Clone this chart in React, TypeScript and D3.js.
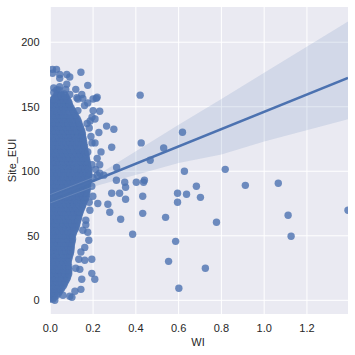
import React from "react";
import * as d3 from "d3";

const xTicks = [0, 0.2, 0.4, 0.6, 0.8, 1.0, 1.2];
const yTicks = [0, 50, 100, 150, 200];

// Outlying buildings: [WI, Site_EUI]
const outliers: [number, number][] = [
  [0.42, 159], [0.425, 122], [0.53, 118], [0.467, 108.5], [0.618, 130.2], [0.31, 103], [0.287, 118.6], [0.297, 132.6],
  [0.263, 135], [0.227, 130], [0.231, 146.5], [0.219, 157.4], [0.175, 166.6], [0.143, 176.7], [0.309, 93], [0.348, 91.5],
  [0.352, 87.6], [0.44, 93], [0.436, 91.5], [0.402, 91.5], [0.287, 83], [0.324, 83], [0.352, 78.3], [0.432, 80.6],
  [0.595, 83], [0.595, 76], [0.222, 75], [0.269, 74.4], [0.278, 68.2], [0.432, 67.4], [0.539, 64.3], [0.329, 62.8],
  [0.385, 51.2], [0.586, 45.7], [0.553, 30.2], [0.601, 9.3], [0.194, 31.8], [0.194, 20.9], [0.208, 16.3], [0.143, 8.5],
  [0.147, 16.3], [0.115, 7], [0.101, 2.3], [0.091, 3.1], [0.059, 3.9], [0.021, 0], [0.18, 46.5], [0.175, 52.7],
  [0.199, 80.6], [0.185, 69.8], [0.182, 76], [0.194, 88.4], [0.166, 62], [0.166, 58.5], [0.152, 54.3], [0.161, 41],
  [0.143, 37.5], [0.161, 31], [0.133, 31.8], [0.138, 24], [0.119, 24.8], [0.637, 82.2], [0.683, 88.4], [0.702, 79.8],
  [0.777, 60.5], [0.912, 89.1], [1.066, 90.7], [1.112, 65.9], [1.126, 49.6], [1.392, 69.8], [0.725, 24.8], [0.627, 100],
  [0.818, 101.5],
];

// Upper fringe of the cloud
const upperFringe: [number, number][] = [
  [0.01, 179], [0.029, 179], [0.01, 176], [0.044, 175], [0.044, 172], [0.077, 175], [0.091, 173], [0.077, 167.5],
  [0.016, 164.5], [0.044, 165.5], [0.016, 161], [0.02, 156], [0.072, 163.5], [0.119, 163.5], [0.091, 159.5], [0.124, 157],
  [0.147, 159.5], [0.152, 156.5], [0.129, 156], [0.175, 153], [0.16, 151], [0.2, 156], [0.215, 156.5], [0.129, 147],
  [0.2, 147], [0.195, 142], [0.209, 140.5], [0.186, 139], [0.172, 137], [0.182, 133.5], [0.19, 127], [0.209, 122],
  [0.195, 122], [0.237, 115], [0.219, 110], [0.175, 115], [0.231, 105], [0.212, 101.5], [0.25, 97], [0.231, 98.5],
  [0.195, 105], [0.2, 95], [0.22, 97],
];

// Dense body of the cloud: [Site_EUI, WI values at that level]
const coreRows: [number, number[]][] = [
  [1, [0.0, 0.012]],
  [4, [0.01, 0.03]],
  [7, [0.0, 0.022, 0.043]],
  [10, [0.012, 0.031, 0.055]],
  [13, [0.0, 0.021, 0.044, 0.066]],
  [16, [0.011, 0.03, 0.052, 0.075]],
  [19, [0.0, 0.022, 0.041, 0.063, 0.082]],
  [22, [0.01, 0.033, 0.052, 0.074, 0.085]],
  [25, [0.0, 0.02, 0.043, 0.061, 0.083]],
  [28, [0.011, 0.031, 0.054, 0.071, 0.08]],
  [31, [0.0, 0.022, 0.04, 0.063, 0.082]],
  [34, [0.012, 0.032, 0.051, 0.073, 0.088]],
  [37, [0.0, 0.021, 0.044, 0.062, 0.084, 0.094]],
  [40, [0.01, 0.03, 0.053, 0.072, 0.096]],
  [43, [0.0, 0.023, 0.041, 0.064, 0.083, 0.097]],
  [46, [0.011, 0.033, 0.05, 0.074, 0.092, 0.102]],
  [49, [0.0, 0.02, 0.042, 0.061, 0.082, 0.1]],
  [52, [0.012, 0.031, 0.052, 0.071, 0.093, 0.107]],
  [55, [0.0, 0.022, 0.043, 0.063, 0.084, 0.103, 0.116]],
  [58, [0.01, 0.032, 0.051, 0.073, 0.091, 0.112, 0.122]],
  [61, [0.0, 0.021, 0.04, 0.062, 0.081, 0.102, 0.126]],
  [64, [0.011, 0.03, 0.053, 0.072, 0.094, 0.113, 0.132]],
  [67, [0.0, 0.023, 0.044, 0.064, 0.083, 0.104, 0.122, 0.136]],
  [70, [0.012, 0.033, 0.05, 0.074, 0.092, 0.114, 0.142]],
  [73, [0.0, 0.02, 0.041, 0.061, 0.082, 0.101, 0.124, 0.15]],
  [76, [0.01, 0.031, 0.052, 0.071, 0.093, 0.111, 0.133, 0.156]],
  [79, [0.0, 0.022, 0.043, 0.063, 0.084, 0.103, 0.122, 0.143, 0.166]],
  [82, [0.011, 0.032, 0.051, 0.073, 0.091, 0.112, 0.134, 0.152, 0.167]],
  [85, [0.0, 0.021, 0.04, 0.062, 0.081, 0.102, 0.123, 0.144, 0.171]],
  [88, [0.012, 0.03, 0.053, 0.072, 0.094, 0.113, 0.132, 0.153, 0.172]],
  [91, [0.0, 0.023, 0.044, 0.064, 0.083, 0.104, 0.121, 0.142, 0.163, 0.174]],
  [94, [0.01, 0.033, 0.05, 0.074, 0.092, 0.114, 0.133, 0.151, 0.176]],
  [97, [0.0, 0.02, 0.041, 0.061, 0.082, 0.101, 0.122, 0.143, 0.162, 0.179]],
  [100, [0.011, 0.031, 0.052, 0.071, 0.093, 0.111, 0.134, 0.152, 0.18]],
  [103, [0.0, 0.022, 0.043, 0.063, 0.084, 0.103, 0.123, 0.141, 0.163, 0.176]],
  [106, [0.012, 0.032, 0.051, 0.073, 0.091, 0.112, 0.132, 0.153, 0.172]],
  [109, [0.0, 0.021, 0.04, 0.062, 0.081, 0.102, 0.121, 0.144, 0.169]],
  [112, [0.01, 0.03, 0.053, 0.072, 0.094, 0.113, 0.133, 0.151, 0.166]],
  [115, [0.0, 0.023, 0.044, 0.064, 0.083, 0.104, 0.122, 0.142, 0.161]],
  [118, [0.011, 0.033, 0.05, 0.074, 0.092, 0.114, 0.134, 0.158]],
  [121, [0.0, 0.02, 0.041, 0.061, 0.082, 0.101, 0.123, 0.143, 0.156]],
  [124, [0.012, 0.031, 0.052, 0.071, 0.093, 0.111, 0.132, 0.153]],
  [127, [0.0, 0.022, 0.043, 0.063, 0.084, 0.103, 0.121, 0.141, 0.15]],
  [130, [0.01, 0.032, 0.051, 0.073, 0.091, 0.112, 0.133, 0.148]],
  [133, [0.0, 0.021, 0.04, 0.062, 0.081, 0.102, 0.122, 0.142]],
  [136, [0.011, 0.03, 0.053, 0.072, 0.094, 0.113, 0.135]],
  [139, [0.0, 0.023, 0.044, 0.064, 0.083, 0.104, 0.13]],
  [142, [0.012, 0.033, 0.05, 0.074, 0.092, 0.12]],
  [145, [0.0, 0.02, 0.041, 0.061, 0.082, 0.11]],
  [148, [0.01, 0.031, 0.052, 0.071, 0.1]],
  [151, [0.0, 0.022, 0.043, 0.063, 0.09]],
  [154, [0.011, 0.032, 0.051, 0.071, 0.085]],
  [157, [0.02, 0.04, 0.062, 0.075]],
  [160, [0.031, 0.05, 0.065]],
  [163, [0.03, 0.04]],
];

// Buildings lying between those levels, filling the body
const betweenRows: [number, number[]][] = [
  [2.5, [0.004, 0.02]],
  [5.5, [0.005, 0.02, 0.038]],
  [8.5, [0.01, 0.033, 0.05]],
  [11.5, [0.004, 0.023, 0.043, 0.062]],
  [14.5, [0.006, 0.032, 0.054, 0.07]],
  [17.5, [0.012, 0.021, 0.042, 0.064, 0.08]],
  [20.5, [0.005, 0.031, 0.053, 0.07, 0.086]],
  [23.5, [0.011, 0.022, 0.041, 0.063, 0.087]],
  [26.5, [0.005, 0.032, 0.052, 0.072, 0.086]],
  [29.5, [0.01, 0.021, 0.043, 0.061, 0.084]],
  [32.5, [0.006, 0.033, 0.051, 0.073, 0.087]],
  [35.5, [0.012, 0.022, 0.042, 0.062, 0.082, 0.092]],
  [38.5, [0.005, 0.031, 0.054, 0.074, 0.096]],
  [41.5, [0.011, 0.021, 0.043, 0.063, 0.084, 0.098]],
  [44.5, [0.004, 0.032, 0.052, 0.073, 0.091, 0.1]],
  [47.5, [0.01, 0.022, 0.041, 0.062, 0.083, 0.104]],
  [50.5, [0.006, 0.033, 0.053, 0.072, 0.092, 0.104]],
  [53.5, [0.012, 0.021, 0.042, 0.064, 0.082, 0.11]],
  [56.5, [0.005, 0.031, 0.052, 0.074, 0.094, 0.112, 0.119]],
  [59.5, [0.011, 0.022, 0.043, 0.061, 0.083, 0.103, 0.124]],
  [62.5, [0.004, 0.032, 0.051, 0.072, 0.092, 0.114, 0.129]],
  [65.5, [0.01, 0.021, 0.041, 0.063, 0.082, 0.103, 0.133]],
  [68.5, [0.006, 0.033, 0.053, 0.073, 0.094, 0.113, 0.131, 0.139]],
  [71.5, [0.012, 0.022, 0.042, 0.062, 0.083, 0.104, 0.123, 0.146]],
  [74.5, [0.005, 0.031, 0.052, 0.074, 0.092, 0.112, 0.134, 0.153]],
  [77.5, [0.011, 0.021, 0.043, 0.061, 0.082, 0.102, 0.123, 0.143, 0.16]],
  [80.5, [0.004, 0.032, 0.051, 0.072, 0.094, 0.113, 0.133, 0.153, 0.168]],
  [83.5, [0.01, 0.022, 0.041, 0.063, 0.083, 0.103, 0.124, 0.143, 0.162, 0.17]],
  [86.5, [0.006, 0.033, 0.053, 0.073, 0.092, 0.112, 0.134, 0.153, 0.173]],
  [89.5, [0.012, 0.021, 0.042, 0.062, 0.082, 0.104, 0.122, 0.144, 0.163, 0.174]],
  [92.5, [0.005, 0.031, 0.052, 0.074, 0.094, 0.113, 0.132, 0.152, 0.177]],
  [95.5, [0.011, 0.022, 0.043, 0.061, 0.083, 0.102, 0.123, 0.142, 0.164, 0.178]],
  [98.5, [0.004, 0.032, 0.051, 0.072, 0.092, 0.114, 0.133, 0.154, 0.172, 0.18]],
  [101.5, [0.01, 0.021, 0.041, 0.063, 0.082, 0.103, 0.124, 0.143, 0.162, 0.179]],
  [104.5, [0.006, 0.033, 0.053, 0.073, 0.094, 0.112, 0.132, 0.152, 0.174]],
  [107.5, [0.012, 0.022, 0.042, 0.062, 0.083, 0.104, 0.122, 0.143, 0.162, 0.172]],
  [110.5, [0.005, 0.031, 0.052, 0.074, 0.092, 0.113, 0.134, 0.153, 0.168]],
  [113.5, [0.011, 0.021, 0.043, 0.061, 0.082, 0.102, 0.123, 0.142, 0.166]],
  [116.5, [0.004, 0.032, 0.051, 0.072, 0.094, 0.112, 0.132, 0.152, 0.162]],
  [119.5, [0.01, 0.022, 0.041, 0.063, 0.083, 0.103, 0.124, 0.144, 0.16]],
  [122.5, [0.006, 0.033, 0.053, 0.073, 0.092, 0.114, 0.133, 0.156]],
  [125.5, [0.012, 0.021, 0.042, 0.062, 0.082, 0.102, 0.122, 0.142, 0.153]],
  [128.5, [0.005, 0.031, 0.052, 0.074, 0.094, 0.113, 0.132, 0.15]],
  [131.5, [0.011, 0.022, 0.043, 0.061, 0.083, 0.103, 0.124, 0.146]],
  [134.5, [0.004, 0.032, 0.051, 0.072, 0.092, 0.112, 0.14]],
  [137.5, [0.01, 0.021, 0.041, 0.063, 0.082, 0.104, 0.133]],
  [140.5, [0.006, 0.033, 0.053, 0.073, 0.094, 0.126]],
  [143.5, [0.012, 0.022, 0.042, 0.062, 0.083, 0.116]],
  [146.5, [0.005, 0.031, 0.052, 0.072, 0.105]],
  [149.5, [0.011, 0.021, 0.043, 0.061, 0.082, 0.096]],
  [152.5, [0.004, 0.032, 0.051, 0.072, 0.088]],
  [155.5, [0.012, 0.042, 0.062, 0.08]],
  [158.5, [0.03, 0.052, 0.07]],
];

// Regression fit and its confidence band
const fitWI = [0, 1.392];
const fitEUI = [79, 172.4];
const bandWI = [0, 0.2, 0.6, 0.8, 1.0, 1.392];
const bandLow = [75.5, 88, 106.5, 113, 123, 140.3];
const bandHigh = [82, 95, 136, 156, 176.4, 216];
const coreEdgeLimit = 0.2;

const W = 355;
const H = 355;
const left = 50;
const right = 348;
const top = 7;
const bottom = 314;
const ink = "#262626";
const blue = "#4c72b0";
const font = "'Liberation Sans', Arial, sans-serif";

export default function App() {
  const x = d3.scaleLinear().domain([-0.0015, 1.392]).range([left, right]);
  const y = d3.scaleLinear().domain([-10.6, 227.3]).range([bottom, top]);

  const allPoints: [number, number][] = [
    ...[...coreRows, ...betweenRows].flatMap(([eui, wis]) => wis.map((w) => [w, eui] as [number, number])),
    ...upperFringe,
    ...outliers,
  ];

  const bandIdx = bandWI.map((_, i) => i);
  const area = d3
    .area<number>()
    .x((i) => x(bandWI[i]))
    .y0((i) => y(bandLow[i]))
    .y1((i) => y(bandHigh[i]));
  const edgeIdx = bandIdx.filter((i) => bandWI[i] <= coreEdgeLimit);
  const edge = (vals: number[]) =>
    d3
      .line<number>()
      .x((i) => x(bandWI[i]))
      .y((i) => y(vals[i]))(edgeIdx) ?? "";
  const fitLine =
    d3
      .line<number>()
      .x((v) => x(v))
      .y((_, i) => y(fitEUI[i]))(fitWI) ?? "";

  return (
    <svg
      width={W}
      height={H}
      style={{ position: "absolute", left: 0, top: 0, background: "#fff" }}
      fontFamily={font}
    >
      <defs>
        <clipPath id="plot">
          <rect x={left} y={top} width={right - left} height={bottom - top} />
        </clipPath>
      </defs>
      <rect x={left} y={top} width={right - left} height={bottom - top} fill="#eaeaf2" />
      {xTicks.map((t) => (
        <line key={t} x1={x(t)} x2={x(t)} y1={top} y2={bottom} stroke="#fff" strokeWidth={1} />
      ))}
      {yTicks.map((t) => (
        <line key={t} x1={left} x2={right} y1={y(t)} y2={y(t)} stroke="#fff" strokeWidth={1} />
      ))}
      <g clipPath="url(#plot)">
        {allPoints.map(([w, e], i) => (
          <circle key={i} cx={x(w)} cy={y(e)} r={3.7} fill={blue} fillOpacity={0.8} />
        ))}
        <path d={area(bandIdx) ?? ""} fill={blue} fillOpacity={0.15} />
        <path d={edge(bandLow)} fill="none" stroke="#fff" strokeOpacity={0.18} strokeWidth={0.8} />
        <path d={edge(bandHigh)} fill="none" stroke="#fff" strokeOpacity={0.18} strokeWidth={0.8} />
        <path d={fitLine} fill="none" stroke={blue} strokeWidth={2.6} />
      </g>
      {xTicks.map((t) => (
        <text key={t} x={x(t)} y={331.5} textAnchor="middle" fontSize={11} fill={ink}>
          {t.toFixed(1)}
        </text>
      ))}
      {yTicks.map((t) => (
        <text key={t} x={39.5} y={y(t) + 4} textAnchor="end" fontSize={11} fill={ink}>
          {t}
        </text>
      ))}
      <text x={198} y={345.5} textAnchor="middle" fontSize={11} fill={ink}>
        WI
      </text>
      <text
        transform={`translate(16,${(top + bottom) / 2}) rotate(-90)`}
        textAnchor="middle"
        fontSize={11}
        fill={ink}
      >
        Site_EUI
      </text>
    </svg>
  );
}
